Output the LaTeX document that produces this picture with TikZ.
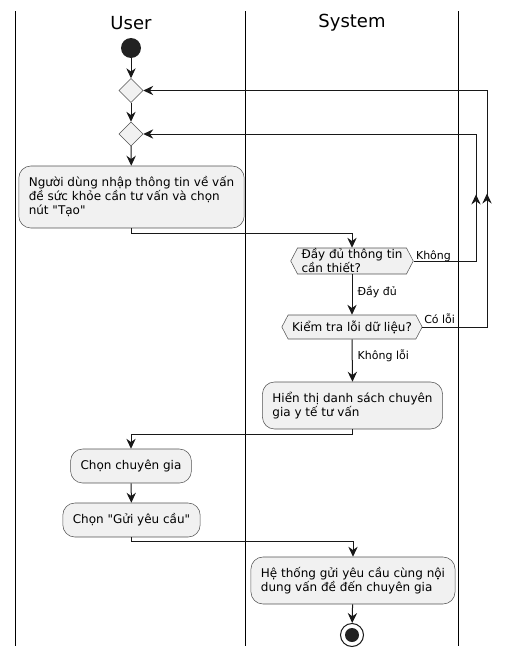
\documentclass[tikz,border=0pt]{standalone}
\usepackage{fontspec}
\setmainfont{DejaVu Sans}
\newfontfamily\umlfont{DejaVu Sans}
\usetikzlibrary{shapes.geometric, shapes.symbols, arrows.meta, positioning, decorations.markings}
\definecolor{actfill}{HTML}{F1F1F1}
\definecolor{actline}{HTML}{181818}
\definecolor{startdot}{HTML}{222222}

\begin{document}
\begin{tikzpicture}[x=0.75pt, y=-0.75pt,
  act/.style={draw=actline!75, fill=actfill, line width=0.4pt, rounded corners=9pt,
    align=left, font=\umlfont\fontsize{9}{10.5}\selectfont, inner xsep=7.5pt, inner ysep=0pt},
  hexbox/.style={signal, signal to=west and east, signal pointer angle=125,
    draw=actline!75, fill=actfill, line width=0.4pt, align=left,
    font=\umlfont\fontsize{9}{10.5}\selectfont, inner xsep=3pt, inner ysep=0pt},
  decide/.style={diamond, draw=actline!75, fill=actfill, line width=0.4pt,
    minimum width=18pt, minimum height=18pt, inner sep=0pt},
  flow/.style={draw=actline, line width=0.75pt,
    -{Stealth[length=7.5pt, width=7pt, inset=2.5pt]}},
  midarrow/.style={postaction={decorate, decoration={markings,
    mark=at position #1 with {\arrow{Stealth[length=7.5pt, width=7pt, inset=2.5pt]}}}}},
  lbl/.style={font=\umlfont\fontsize{8.25}{10}\selectfont, inner sep=0pt},
  lane/.style={draw=black, line width=1.2pt},
  lanetitle/.style={font=\umlfont\fontsize{13.5}{16}\selectfont}
]
  \useasboundingbox (0,0) rectangle (512,657);

  % swimlanes
  \draw[lane] (15.5,11) -- (15.5,646);
  \draw[lane] (245.5,11) -- (245.5,646);
  \draw[lane] (458.5,11) -- (458.5,646);
  \node[lanetitle] (tUser) at (131,23) {User};
  \node[lanetitle] (tSystem) at (352,23) {System};

  % start and the two merge points
  \node[circle, fill=startdot, minimum size=15pt, inner sep=0pt] (start) at (131,48) {};
  \node[decide] (dec1) at (131,90.5) {};
  \node[decide] (dec2) at (131,134) {};

  % user input
  \node[act, minimum width=165.75pt, minimum height=46.5pt] (nhap) at (131.5,197)
    {Người dùng nhập thông tin về vấn\\đề sức khỏe cần tư vấn và chọn\\nút "Tạo"};

  % checks
  \node[hexbox, minimum width=90pt, minimum height=19.5pt] (hex1) at (352,261)
    {Đầy đủ thông tin\\cần thiết?};
  \node[hexbox, minimum width=104.25pt, minimum height=18pt] (hex2) at (352,327)
    {Kiểm tra lỗi dữ liệu?};

  % list of experts
  \node[act, minimum width=133.5pt, minimum height=35.25pt] (hienthi) at (352.5,405.5)
    {Hiển thị danh sách chuyên\\gia y tế tư vấn};
  \node[act, minimum width=88.5pt, minimum height=25.5pt] (chon) at (131,466)
    {Chọn chuyên gia};
  \node[act, minimum width=100.5pt, minimum height=25.5pt] (gui) at (131.5,520)
    {Chọn "Gửi yêu cầu"};
  \node[act, minimum width=151.5pt, minimum height=35.25pt] (heth) at (353,580.5)
    {Hệ thống gửi yêu cầu cùng nội\\dung vấn đề đến chuyên gia};

  % end
  \node[circle, draw=actline, line width=0.75pt, minimum size=17.25pt, inner sep=0pt] (stop) at (352,635) {};
  \fill[startdot] (stop.center) circle (5.25pt);

  % return paths
  \coordinate (loopA) at (476,0);
  \coordinate (loopB) at (487,0);

  % connectors
  \draw[flow] (start) -- (dec1);
  \draw[flow] (dec1) -- (dec2);
  \draw[flow] (dec2) -- (nhap);
  \draw[flow] (nhap.south) -- ++(0,5.5) -| (hex1.north);
  \draw[flow] (hex1.south) -- node[lbl, anchor=west, pos=0.45, xshift=3.75pt] {Đầy đủ} (hex2.north);
  \draw[flow, midarrow=96.75pt] (hex1.east) -- node[lbl, anchor=base west, pos=0, xshift=1.5pt, yshift=1.5pt] {Không}
    (hex1.east -| loopA) -- (loopA |- dec2) -- (dec2.east);
  \draw[flow, midarrow=148.5pt] (hex2.east) -- node[lbl, anchor=base west, pos=0, xshift=1pt, yshift=2.5pt] {Có lỗi}
    (hex2.east -| loopB) -- (loopB |- dec1) -- (dec1.east);
  \draw[flow] (hex2.south) -- node[lbl, anchor=west, pos=0.4, xshift=3.75pt] {Không lỗi} (hienthi.north);
  \draw[flow] (hienthi.south) -- ++(0,5) -| (chon.north);
  \draw[flow] (chon) -- (gui);
  \draw[flow] (gui.south) -- ++(0,4) -| (heth.north);
  \draw[flow] (heth) -- (stop);

\end{tikzpicture}
\end{document}
